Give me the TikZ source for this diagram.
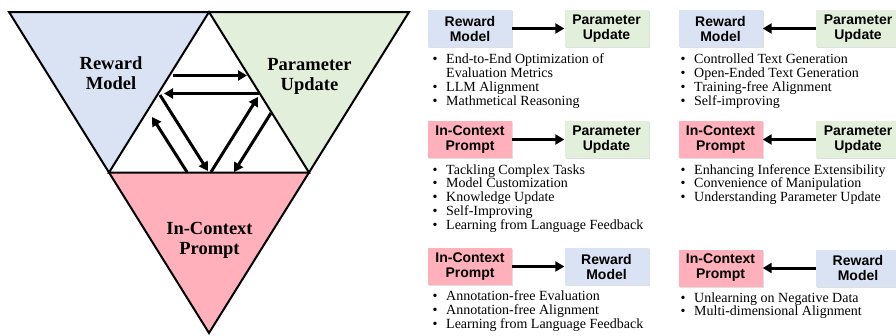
\documentclass[tikz,border=0pt]{standalone}
\usepackage{fontspec}
\setmainfont{Liberation Serif}
\setsansfont{Liberation Sans}
\usetikzlibrary{arrows.meta,shadows}
\definecolor{rmblue}{RGB}{218,227,243}
\definecolor{pugreen}{RGB}{226,239,218}
\definecolor{icpink}{RGB}{255,176,186}
\newcommand\bitems[4]{%
  \foreach \t [count=\i] in {#4} {
    \node[bul] (#3b\i) at (#1, {#2+13.9*(\i-1)}) {\textbullet};
    \node[itm] (#3t\i) at (#1+11, {#2+13.9*(\i-1)}) {\t};
  }}
\begin{document}
\begin{tikzpicture}[x=1pt,y=-1pt,
  edge/.style={draw=black,line width=2pt,line join=miter},
  trilabel/.style={font=\fontsize{18.5}{20}\selectfont\bfseries,align=center,inner sep=0},
  fat/.style={line width=3pt,-{Triangle[length=9pt,width=10pt]}},
  box/.style={minimum width=84pt,minimum height=37pt,inner sep=0,align=center,
    font=\sffamily\bfseries\fontsize{14}{15}\selectfont,
    drop shadow={shadow xshift=1.2pt,shadow yshift=-1.2pt,opacity=0.25}},
  rmbox/.style={box,fill=rmblue},
  pubox/.style={box,fill=pugreen},
  icbox/.style={box,fill=icpink},
  bul/.style={anchor=base,inner sep=0,font=\fontsize{14}{14}\selectfont},
  itm/.style={anchor=base west,inner sep=0,font=\fontsize{14}{14}\selectfont},
]
\useasboundingbox (0,0) rectangle (896,335);
% triangle corners
\coordinate (TL) at (9,12);
\coordinate (TM) at (209,12);
\coordinate (TR) at (409,12);
\coordinate (ML) at (109,172.5);
\coordinate (MR) at (309,172.5);
\coordinate (BT) at (209,333);
\fill[rmblue] (TL) -- (TM) -- (ML) -- cycle;
\fill[pugreen] (TM) -- (TR) -- (MR) -- cycle;
\fill[icpink] (ML) -- (MR) -- (BT) -- cycle;
\draw[edge] (TL) -- (TR) -- (BT) -- cycle;
\draw[edge] (TM) -- (ML) -- (MR) -- cycle;
\node[trilabel] (rmT) at (111,73.5) {Reward\\Model};
\node[trilabel] (puT) at (309.5,76) {Parameter\\Update};
\node[trilabel] (icT) at (209.5,240.5) {In-Context\\Prompt};
% inner arrows
\coordinate (a1s) at (173,75.5);  \coordinate (a1e) at (247,75.5);
\coordinate (a2s) at (258.5,93.5); \coordinate (a2e) at (164,93.5);
\coordinate (a3s) at (160,95);    \coordinate (a3e) at (208,171);
\coordinate (a4s) at (187,172);   \coordinate (a4e) at (152,117);
\coordinate (a5s) at (211,172);   \coordinate (a5e) at (258,97);
\coordinate (a6s) at (271,113);   \coordinate (a6e) at (234,172);
\foreach \k in {1,...,6} {\draw[fat] (a\k s) -- (a\k e);}
% right panel boxes
\node[rmbox] (r1a) at (470,28.5) {Reward\\Model};
\node[pubox] (r1b) at (606.5,28.5) {Parameter\\Update};
\draw[fat] (r1a) -- (r1b);
\node[icbox] (r2a) at (470,139.5) {In-Context\\Prompt};
\node[pubox] (r2b) at (606.5,139.5) {Parameter\\Update};
\draw[fat] (r2a) -- (r2b);
\node[icbox] (r3a) at (470,266.5) {In-Context\\Prompt};
\node[rmbox] (r3b) at (606.5,266.5) {Reward\\Model};
\draw[fat] (r3a) -- (r3b);
\node[rmbox] (s1a) at (720.5,28.5) {Reward\\Model};
\node[pubox] (s1b) at (858,28.5) {Parameter\\Update};
\draw[fat] (s1b) -- (s1a);
\node[icbox] (s2a) at (720.5,139.5) {In-Context\\Prompt};
\node[pubox] (s2b) at (858,139.5) {Parameter\\Update};
\draw[fat] (s2b) -- (s2a);
\node[icbox] (s3a) at (720.5,268) {In-Context\\Prompt};
\node[rmbox] (s3b) at (858,268) {Reward\\Model};
\draw[fat] (s3b) -- (s3a);
% bullet lists
\node[bul] (Ab1) at (435,63.5) {\textbullet};
\node[itm] (At1) at (446,63.5) {End-to-End Optimization of};
\node[itm] (At1c) at (446,77.4) {Evaluation Metrics};
\node[bul] (Ab2) at (435,91.3) {\textbullet};
\node[itm] (At2) at (446,91.3) {LLM Alignment};
\node[bul] (Ab3) at (435,105.2) {\textbullet};
\node[itm] (At3) at (446,105.2) {Mathmetical Reasoning};
\bitems{435}{174}{B}{Tackling Complex Tasks,Model Customization,Knowledge Update,Self-Improving,Learning from Language Feedback}
\bitems{435}{300.5}{C}{Annotation-free Evaluation,Annotation-free Alignment,Learning from Language Feedback}
\bitems{683}{63.5}{D}{Controlled Text Generation,Open-Ended Text Generation,Training-free Alignment,Self-improving}
\bitems{683}{174}{E}{Enhancing Inference Extensibility,Convenience of Manipulation,Understanding Parameter Update}
\bitems{683}{302}{F}{Unlearning on Negative Data,Multi-dimensional Alignment}
\end{tikzpicture}
\end{document}
